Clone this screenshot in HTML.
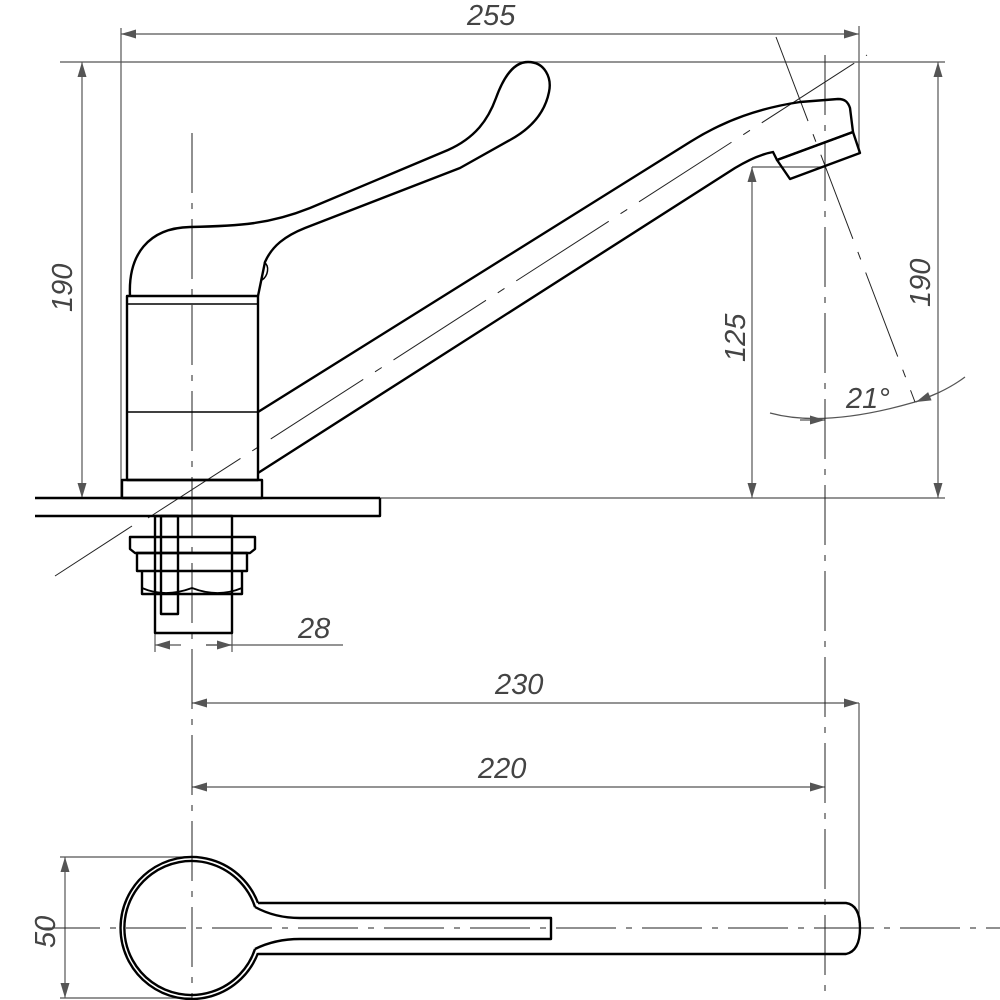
<!DOCTYPE html>
<html><head><meta charset="utf-8"><style>
html,body{margin:0;padding:0;background:#fff;}
svg{display:block}
text{font-family:"Liberation Sans",sans-serif;font-style:italic;fill:#444;font-size:29px}
</style></head><body>
<svg width="1000" height="1000" viewBox="0 0 1000 1000" xmlns="http://www.w3.org/2000/svg">
<defs>
<marker id="a" viewBox="0 0 10 6" refX="10" refY="3" markerWidth="28" markerHeight="9" markerUnits="userSpaceOnUse" orient="auto-start-reverse"><path d="M0,0 L10,3 L0,6 Z" fill="#555"/></marker>
</defs>
<g stroke="#555" stroke-width="1.2" fill="none">
<line x1="121" y1="28" x2="121" y2="498"/>
<line x1="859" y1="26" x2="859" y2="153"/>
<line x1="121" y1="34" x2="859" y2="34" marker-start="url(#a)" marker-end="url(#a)"/>
<line x1="60" y1="62" x2="945" y2="62"/>
<line x1="82" y1="62" x2="82" y2="498" marker-start="url(#a)" marker-end="url(#a)"/>
<line x1="938" y1="62" x2="938" y2="498" marker-start="url(#a)" marker-end="url(#a)"/>
<line x1="380" y1="498" x2="945" y2="498"/>
<line x1="752" y1="167" x2="825" y2="167"/>
<line x1="752" y1="167" x2="752" y2="498" marker-start="url(#a)" marker-end="url(#a)"/>
<path d="M770,413 Q825,428 915,402 Q945,392 965,377"/>
<line x1="800" y1="420" x2="825" y2="420" marker-end="url(#a)"/>
<line x1="940" y1="392" x2="916" y2="402" marker-end="url(#a)"/>
<line x1="155" y1="633" x2="155" y2="652"/>
<line x1="232" y1="633" x2="232" y2="652"/>
<line x1="181" y1="645" x2="155" y2="645" marker-end="url(#a)"/>
<line x1="206" y1="645" x2="343" y2="645"/>
<line x1="206" y1="645" x2="232" y2="645" marker-end="url(#a)"/>
<line x1="859" y1="703" x2="859" y2="923"/>
<line x1="192" y1="703" x2="859" y2="703" marker-start="url(#a)" marker-end="url(#a)"/>
<line x1="192" y1="787" x2="825" y2="787" marker-start="url(#a)" marker-end="url(#a)"/>
<line x1="60" y1="857" x2="192" y2="857"/>
<line x1="60" y1="998" x2="192" y2="998"/>
<line x1="65" y1="857" x2="65" y2="998" marker-start="url(#a)" marker-end="url(#a)"/>
</g>
<g stroke="#222" stroke-width="1" fill="none">
<line x1="55" y1="576" x2="132" y2="526"/>
<line x1="148" y1="518" x2="867" y2="55" stroke-dasharray="110,14,8,14"/>
<line x1="776" y1="37" x2="915" y2="402" stroke-dasharray="90,14,8,14"/>
<line x1="192" y1="133" x2="192" y2="1000" stroke-dasharray="60,10,6,10"/>
<line x1="825" y1="55" x2="825" y2="1000" stroke-dasharray="60,10,6,10"/>
<line x1="40" y1="928" x2="1000" y2="928" stroke-dasharray="60,10,6,10"/>
</g>
<g stroke="#000" stroke-width="2.4" fill="none" stroke-linejoin="round">
<line x1="35" y1="498" x2="380" y2="498"/>
<polyline points="35,516 380,516 380,498"/>
<rect x="122" y="480" width="140" height="18"/>
<rect x="127" y="296" width="131" height="184"/>
<line x1="127" y1="304" x2="258" y2="304" stroke-width="1.5"/>
<line x1="127" y1="412" x2="258" y2="412" stroke-width="1.5"/>
<path d="M130,296 C128,255 148,228 190,227 C240,226 270,224 310,208 L448,150 C475,138 488,120 496,98 C504,76 514,62 528,62 C545,62 552,78 549,92 C545,112 532,128 510,140 L460,168 L305,228 C285,236 272,246 265,262 L258,296"/>
<path d="M264,262 C270,266 268,276 262,280" stroke-width="1.5"/>
<path d="M258,412 L690,142 C725,120 760,108 800,102 L838,99 C845,99 848,102 850,108 L853,132"/>
<path d="M258,473 L735,168 C750,159 762,154 773,152 L777,160 L853,132"/>
<polygon points="777,160 853,132 860,153 790,179"/>
<rect x="155" y="516" width="77" height="117"/>
<polygon points="130,537 255,537 255,549 250,553 135,553 130,549"/>
<rect x="137" y="553" width="110" height="18"/>
<path d="M142,571 L142,594 L242,594 L242,571"/>
<path d="M142,588 Q165,598 192,588 Q218,598 242,588" stroke-width="1.8"/>
<rect x="161" y="516" width="17" height="98"/>
<path d="M258,903 A71,71 0 1 0 258,953"/>
<path d="M255,907 A67,67 0 1 0 255,949"/>
<path d="M258,903 L846,903 Q860,905 860,928 Q860,951 846,954 L258,954"/>
<path d="M255,907 Q275,918 300,918 L551,918 L551,939 L300,939 Q275,939 255,949"/>
</g>
<text x="467" y="25">255</text>
<text transform="translate(72,312) rotate(-90)">190</text>
<text transform="translate(745,362) rotate(-90)">125</text>
<text transform="translate(930,307) rotate(-90)">190</text>
<text x="846" y="408">21°</text>
<text x="298" y="638">28</text>
<text x="495" y="694">230</text>
<text x="478" y="778">220</text>
<text transform="translate(55,948) rotate(-90)">50</text>
</svg>
</body></html>
